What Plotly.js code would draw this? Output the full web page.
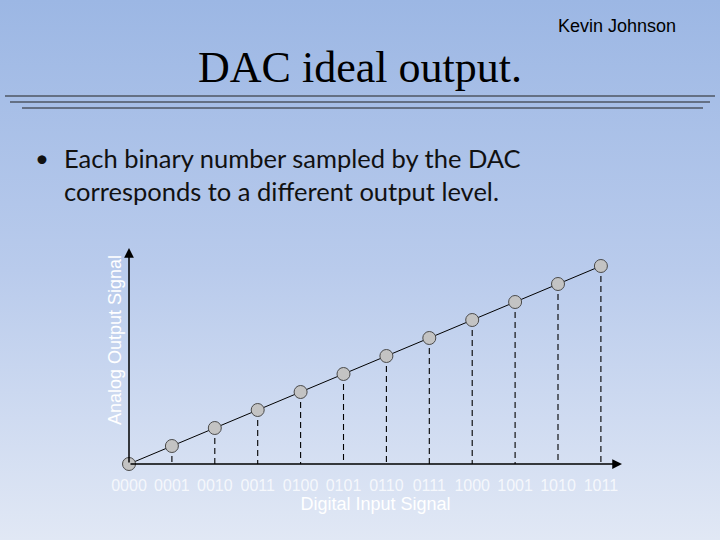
<!DOCTYPE html>
<html>
<head>
<meta charset="utf-8">
<script src="https://cdn.plot.ly/plotly-3.0.1.min.js"></script>
<style>
html,body{margin:0;padding:0;}
body{width:720px;height:540px;background:linear-gradient(to bottom,#9cb7e4 0%,#b9cbec 50%,#e1e8f5 100%);}
#chart{width:720px;height:540px;}
</style>
</head>
<body>
<div id="chart"></div>
<script>
// Data
const codes = ["0000","0001","0010","0011","0100","0101","0110","0111","1000","1001","1010","1011"];
const levels = [0,1,2,3,4,5,6,7,8,9,10,11];
const chartTitle = "DAC ideal output.";
const author = "Kevin Johnson";
const bulletLines = ["Each binary number sampled by the DAC","corresponds to a different output level."];
const xTitle = "Digital Input Signal";
const yTitle = "Analog Output Signal";

const idx = codes.map((c,i)=>i);

// dashed drop lines from each point to axis
const dx = [], dy = [];
idx.forEach((i)=>{ dx.push(i,i,null); dy.push(levels[i],0,null); });

const traces = [
  {x: dx, y: dy, mode:'lines', line:{color:'#000', width:1.1, dash:'6px,4px'}, hoverinfo:'skip', showlegend:false, cliponaxis:false},
  {x: idx, y: levels, mode:'lines+markers', line:{color:'#000', width:1}, cliponaxis:false,
   marker:{size:13, color:'#c3c3c3', line:{color:'#4a4a4a', width:1}}, showlegend:false}
];

const px = v => v/720, py = v => 1 - v/540;

const layout = {
  width:720, height:540,
  margin:{l:0,r:0,t:0,b:0},
  paper_bgcolor:'rgba(0,0,0,0)', plot_bgcolor:'rgba(0,0,0,0)',
  showlegend:false,
  title:{text:chartTitle, font:{family:'Liberation Serif, Times New Roman, serif', size:44, color:'#000'},
         x:0.5, xref:'paper', xanchor:'center', y:py(67), yref:'container', yanchor:'middle'},
  xaxis:{domain:[129/720, 622/720], range:[0, 493/42.9], showgrid:false, zeroline:false, showline:false,
         tickmode:'array', tickvals:idx, ticktext:codes, ticks:'',
         tickfont:{family:'Liberation Sans, Arial, sans-serif', size:16, color:'rgba(255,255,255,0.75)'},
         ticklabelstandoff:10,
         title:{text:xTitle, font:{family:'Liberation Sans, Arial, sans-serif', size:18, color:'#ffffff'}, standoff:0}},
  yaxis:{domain:[(540-464)/540, (540-248)/540], range:[0, 216/18], showgrid:false, zeroline:false, showline:false,
         showticklabels:false, ticks:''},
  shapes:[
    {type:'line', xref:'paper', yref:'paper', x0:px(5), x1:px(715), y0:py(96), y1:py(96), line:{color:'#222', width:1.2}},
    {type:'line', xref:'paper', yref:'paper', x0:px(10), x1:px(710), y0:py(102), y1:py(102), line:{color:'#222', width:1.2}},
    {type:'line', xref:'paper', yref:'paper', x0:px(22), x1:px(703), y0:py(108), y1:py(108), line:{color:'#222', width:1.2}}
  ],
  annotations:[
    {text:author, xref:'paper', yref:'paper', x:px(617), y:py(26), xanchor:'center', yanchor:'middle', showarrow:false,
     font:{family:'Liberation Sans, Arial, sans-serif', size:18, color:'#000'}},
    {text:yTitle, xref:'paper', yref:'paper', x:px(115), y:py(340), xanchor:'center', yanchor:'middle', showarrow:false,
     textangle:-90, font:{family:'Liberation Sans, Arial, sans-serif', size:18, color:'#ffffff'}},
    {text:'•', xref:'paper', yref:'paper', x:px(33), y:py(158), xanchor:'left', yanchor:'middle', showarrow:false,
     font:{family:'Lato, sans-serif', size:24, color:'#111'}},
    {text:bulletLines[0], xref:'paper', yref:'paper', x:px(62), y:py(158), xanchor:'left', yanchor:'middle', showarrow:false,
     font:{family:'Lato, sans-serif', size:25.5, color:'#111'}},
    {text:bulletLines[1], xref:'paper', yref:'paper', x:px(62), y:py(191), xanchor:'left', yanchor:'middle', showarrow:false,
     font:{family:'Lato, sans-serif', size:25.5, color:'#111'}},
    // axis arrows
    {text:'', x:493/42.9, y:0, ax:0, ay:0, xref:'x', yref:'y', axref:'x', ayref:'y', showarrow:true,
     arrowhead:2, arrowsize:1.3, arrowwidth:1.5, arrowcolor:'#000', standoff:0, startstandoff:0},
    {text:'', x:0, y:216/18, ax:0, ay:0, xref:'x', yref:'y', axref:'x', ayref:'y', showarrow:true,
     arrowhead:2, arrowsize:1.3, arrowwidth:1.5, arrowcolor:'#000', standoff:0, startstandoff:0}
  ]
};

Plotly.newPlot('chart', traces, layout, {displayModeBar:false, staticPlot:true});
</script>
</body>
</html>
